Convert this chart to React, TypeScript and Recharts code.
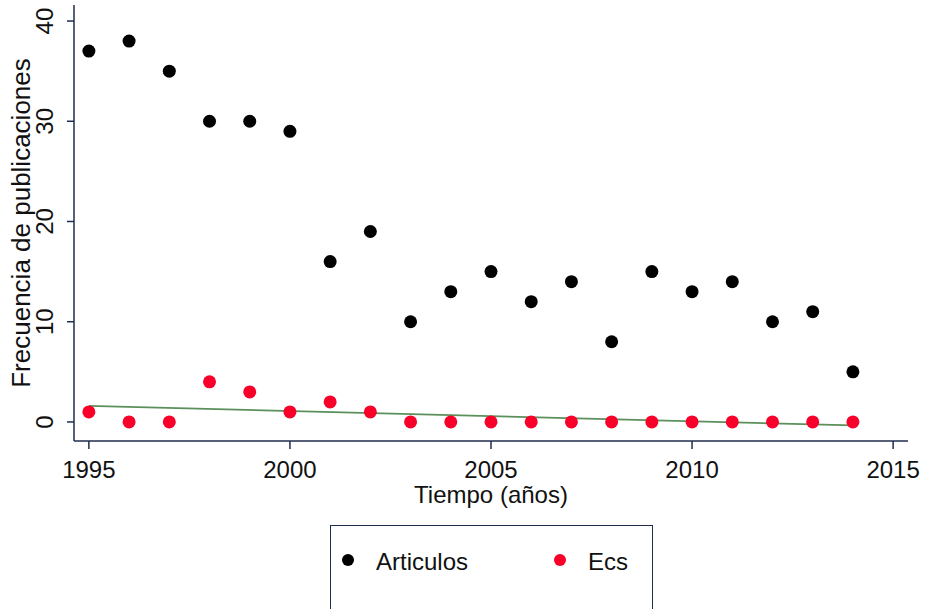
import React from "react";
import {
  ScatterChart,
  Scatter,
  XAxis,
  YAxis,
  ReferenceLine,
  Legend,
} from "recharts";

const years = [1995, 1996, 1997, 1998, 1999, 2000, 2001, 2002, 2003, 2004, 2005, 2006, 2007, 2008, 2009, 2010, 2011, 2012, 2013, 2014];
const articulos = [37, 38, 35, 30, 30, 29, 16, 19, 10, 13, 15, 12, 14, 8, 15, 13, 14, 10, 11, 5];
const ecs = [1, 0, 0, 4, 3, 1, 2, 1, 0, 0, 0, 0, 0, 0, 0, 0, 0, 0, 0, 0];
const trendYears = [1995, 2014];
const trendValues = [1.6, -0.35];
const xTicks = [1995, 2000, 2005, 2010, 2015];
const yTicks = [0, 10, 20, 30, 40];

const seriesNames = ["Articulos", "Ecs"];
const xTitle = "Tiempo (años)";
const yTitle = "Frecuencia de publicaciones";

const FONT = "'Liberation Sans', Arial, Helvetica, sans-serif";
const AXIS = "#1f2d4d";
const BLACK = "#000000";
const RED = "#f8002a";
const GREEN = "#5b8f5b";

const articulosData = years.map((y, i) => ({ year: y, value: articulos[i] }));
const ecsData = years.map((y, i) => ({ year: y, value: ecs[i] }));

const makeDot = (color: string) => (props: any) => (
  <circle cx={props.cx} cy={props.cy} r={6.5} fill={color} />
);

const XTick = (props: any) => {
  const { x, y, payload } = props;
  return (
    <text x={x} y={y} dy={27} textAnchor="middle" fontFamily={FONT} fontSize={24} fill="#111">
      {payload.value}
    </text>
  );
};

const YTick = (props: any) => {
  const { x, y, payload } = props;
  const tx = x - 12;
  return (
    <text
      x={tx}
      y={y}
      textAnchor="middle"
      transform={`rotate(-90, ${tx}, ${y})`}
      fontFamily={FONT}
      fontSize={24}
      fill="#111"
    >
      {payload.value}
    </text>
  );
};

const XLabel = (props: any) => {
  const vb = props.viewBox;
  return (
    <text x={vb.x + vb.width / 2} y={503} textAnchor="middle" fontFamily={FONT} fontSize={24} fill="#111">
      {xTitle}
    </text>
  );
};

const YLabel = (props: any) => {
  const vb = props.viewBox;
  const cy = vb.y + vb.height / 2;
  return (
    <text
      x={30}
      y={cy}
      textAnchor="middle"
      transform={`rotate(-90, 30, ${cy})`}
      fontFamily={FONT}
      fontSize={26}
      fill="#111"
    >
      {yTitle}
    </text>
  );
};

const LegendBox = (props: any) => {
  const payload = props.payload || [];
  return (
    <div
      style={{
        width: 323,
        height: 100,
        boxSizing: "border-box",
        border: `1.5px solid ${AXIS}`,
        background: "#fff",
      }}
    >
      <svg width={320} height={97}>
        {payload.map((entry: any, i: number) => (
          <g key={entry.value}>
            <circle cx={17 + i * 212} cy={34} r={6} fill={entry.color} />
            <text x={45 + i * 212} y={44} fontFamily={FONT} fontSize={24} fill="#111">
              {entry.value}
            </text>
          </g>
        ))}
      </svg>
    </div>
  );
};

export default function App() {
  return (
    <div style={{ position: "absolute", left: 0, top: 0, background: "#fff" }}>
      <ScatterChart width={926} height={609} margin={{ top: 5, right: 18, left: 0, bottom: 0 }}>
        <XAxis
          type="number"
          dataKey="year"
          domain={[1994.63, 2015.37]}
          ticks={xTicks}
          allowDataOverflow
          height={168}
          tickSize={8}
          stroke={AXIS}
          strokeWidth={1.5}
          tick={<XTick />}
          label={<XLabel />}
        />
        <YAxis
          type="number"
          dataKey="value"
          domain={[-1.9, 41.6]}
          ticks={yTicks}
          allowDataOverflow
          width={74}
          tickSize={7}
          stroke={AXIS}
          strokeWidth={1.5}
          tick={<YTick />}
          label={<YLabel />}
        />
        <Legend
          layout="horizontal"
          verticalAlign="middle"
          align="center"
          wrapperStyle={{ left: 330, top: 525, width: 323, height: 100 }}
          content={<LegendBox />}
        />
        <Scatter
          name={seriesNames[0]}
          data={articulosData}
          fill={BLACK}
          shape={makeDot(BLACK)}
          isAnimationActive={false}
        />
        <Scatter
          name={seriesNames[1]}
          data={ecsData}
          fill={RED}
          shape={makeDot(RED)}
          isAnimationActive={false}
        />
        <ReferenceLine
          segment={[
            { x: trendYears[0], y: trendValues[0] },
            { x: trendYears[1], y: trendValues[1] },
          ]}
          stroke={GREEN}
          strokeWidth={1.8}
          ifOverflow="visible"
        />
      </ScatterChart>
    </div>
  );
}
